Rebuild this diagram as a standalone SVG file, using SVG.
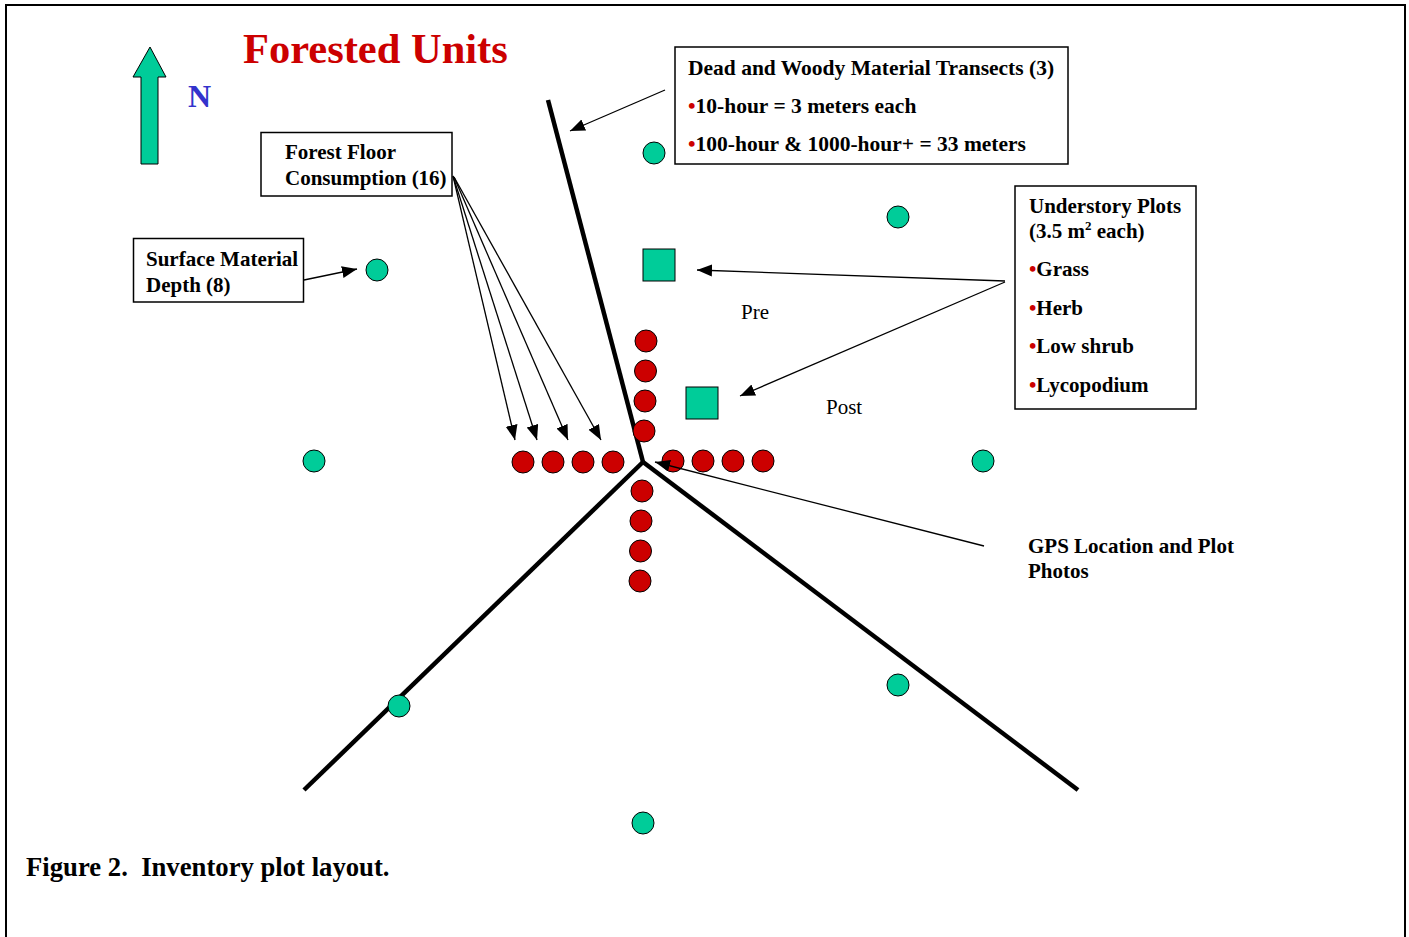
<svg xmlns="http://www.w3.org/2000/svg" width="1409" height="937" viewBox="0 0 1409 937">
<defs>
<style>
.lbl{font-family:"Liberation Serif","Times New Roman",serif;font-weight:bold;font-size:21px;fill:#000}
.big{font-size:21.5px}
.reg{font-family:"Liberation Serif","Times New Roman",serif;font-size:21px;fill:#000}
.box{fill:#fff;stroke:#000;stroke-width:1.5}
.red{fill:#cc0000;stroke:#000;stroke-width:1}
.grn{fill:#00cc99;stroke:#000;stroke-width:1}
.tr{stroke:#000;stroke-width:4.5;fill:none;stroke-linecap:butt}
.ar{stroke:#000;stroke-width:1.3;fill:none;marker-end:url(#ah)}
.bul{fill:#cc0000}
</style>
<marker id="ah" markerUnits="userSpaceOnUse" markerWidth="16" markerHeight="14" refX="15" refY="6" orient="auto">
<path d="M0,0 L15,6 L0,12 Z" fill="#000"/>
</marker>
</defs>
<rect width="1409" height="937" fill="#fff"/>
<path d="M6,937 V5 H1405 V937" fill="none" stroke="#000" stroke-width="2"/>

<g id="title">
<text x="243" y="63" style="font-family:'Liberation Serif','Times New Roman',serif;font-weight:bold;font-size:42.5px;fill:#cc0000">Forested Units</text>
</g>
<g id="north">
<polygon points="150,47 166,77 158,77 158,164 141,164 141,77 133,77" class="grn" stroke-width="1.5"/>
<text x="188" y="107" style="font-family:'Liberation Serif','Times New Roman',serif;font-weight:bold;font-size:32px;fill:#3333cc">N</text>
</g>

<g id="transects">
<line x1="548" y1="100" x2="643" y2="462" class="tr"/>
<line x1="643" y1="462" x2="304" y2="790" class="tr"/>
<line x1="643" y1="462" x2="1078" y2="790" class="tr"/>
</g>

<g id="forest-floor-points">
<circle cx="523" cy="462" r="11" class="red"/>
<circle cx="553" cy="462" r="11" class="red"/>
<circle cx="583" cy="462" r="11" class="red"/>
<circle cx="613" cy="462" r="11" class="red"/>
<circle cx="673" cy="461" r="11" class="red"/>
<circle cx="703" cy="461" r="11" class="red"/>
<circle cx="733" cy="461" r="11" class="red"/>
<circle cx="763" cy="461" r="11" class="red"/>
<circle cx="646" cy="341" r="11" class="red"/>
<circle cx="645.5" cy="371" r="11" class="red"/>
<circle cx="645" cy="401" r="11" class="red"/>
<circle cx="644" cy="431" r="11" class="red"/>
<circle cx="642" cy="491" r="11" class="red"/>
<circle cx="641" cy="521" r="11" class="red"/>
<circle cx="640.5" cy="551" r="11" class="red"/>
<circle cx="640" cy="581" r="11" class="red"/>
</g>

<g id="surface-points">
<circle cx="654" cy="153" r="11" class="grn"/>
<circle cx="898" cy="217" r="11" class="grn"/>
<circle cx="377" cy="270" r="11" class="grn"/>
<circle cx="314" cy="461" r="11" class="grn"/>
<circle cx="983" cy="461" r="11" class="grn"/>
<circle cx="399" cy="706" r="11" class="grn"/>
<circle cx="898" cy="685" r="11" class="grn"/>
<circle cx="643" cy="823" r="11" class="grn"/>
</g>

<g id="understory-plots">
<rect x="643" y="249" width="32" height="32" class="grn"/>
<rect x="686" y="387" width="32" height="32" class="grn"/>
<text x="741" y="319" class="reg">Pre</text>
<text x="826" y="414" class="reg">Post</text>
</g>

<g id="connectors">
<line x1="453" y1="176" x2="515" y2="440" class="ar"/>
<line x1="453" y1="176" x2="537" y2="440" class="ar"/>
<line x1="454" y1="177" x2="568" y2="440" class="ar"/>
<line x1="454" y1="177" x2="601" y2="440" class="ar"/>
<line x1="665" y1="90" x2="570" y2="131" class="ar"/>
<line x1="1005" y1="281" x2="697" y2="270" class="ar"/>
<line x1="1005" y1="282" x2="740" y2="396" class="ar"/>
<line x1="984" y1="546" x2="655" y2="462" class="ar"/>
<line x1="304" y1="280" x2="357" y2="269" class="ar"/>
</g>

<g id="forest-floor-box">
<rect x="261" y="132.5" width="191" height="63.5" class="box"/>
<text x="285" y="159" class="lbl">Forest Floor</text>
<text x="285" y="185" class="lbl">Consumption (16)</text>
</g>

<g id="surface-box">
<rect x="133.5" y="238.5" width="170" height="63.5" class="box"/>
<text x="146" y="266" class="lbl">Surface Material</text>
<text x="146" y="292" class="lbl">Depth (8)</text>
</g>

<g id="dwm-box">
<rect x="675" y="47" width="393" height="117" class="box"/>
<text x="688" y="75" class="lbl big">Dead and Woody Material Transects (3)</text>
<text x="688" y="113" class="lbl big"><tspan class="bul">•</tspan>10-hour = 3 meters each</text>
<text x="688" y="151" class="lbl big"><tspan class="bul">•</tspan>100-hour &amp; 1000-hour+ = 33 meters</text>
</g>

<g id="understory-box">
<rect x="1015" y="186" width="181" height="223" class="box"/>
<text x="1029" y="213" class="lbl">Understory Plots</text>
<text x="1029" y="238" class="lbl">(3.5 m<tspan dy="-8" font-size="13">2</tspan><tspan dy="8"> each)</tspan></text>
<text x="1029" y="276" class="lbl"><tspan class="bul">•</tspan>Grass</text>
<text x="1029" y="315" class="lbl"><tspan class="bul">•</tspan>Herb</text>
<text x="1029" y="353" class="lbl"><tspan class="bul">•</tspan>Low shrub</text>
<text x="1029" y="392" class="lbl"><tspan class="bul">•</tspan>Lycopodium</text>
</g>

<g id="gps-label">
<text x="1028" y="553" class="lbl">GPS Location and Plot</text>
<text x="1028" y="578" class="lbl">Photos</text>
</g>

<g id="caption">
<text x="26" y="876" xml:space="preserve" style="font-family:'Liberation Serif','Times New Roman',serif;font-weight:bold;font-size:26.7px;fill:#000">Figure 2.  Inventory plot layout.</text>
</g>
</svg>
